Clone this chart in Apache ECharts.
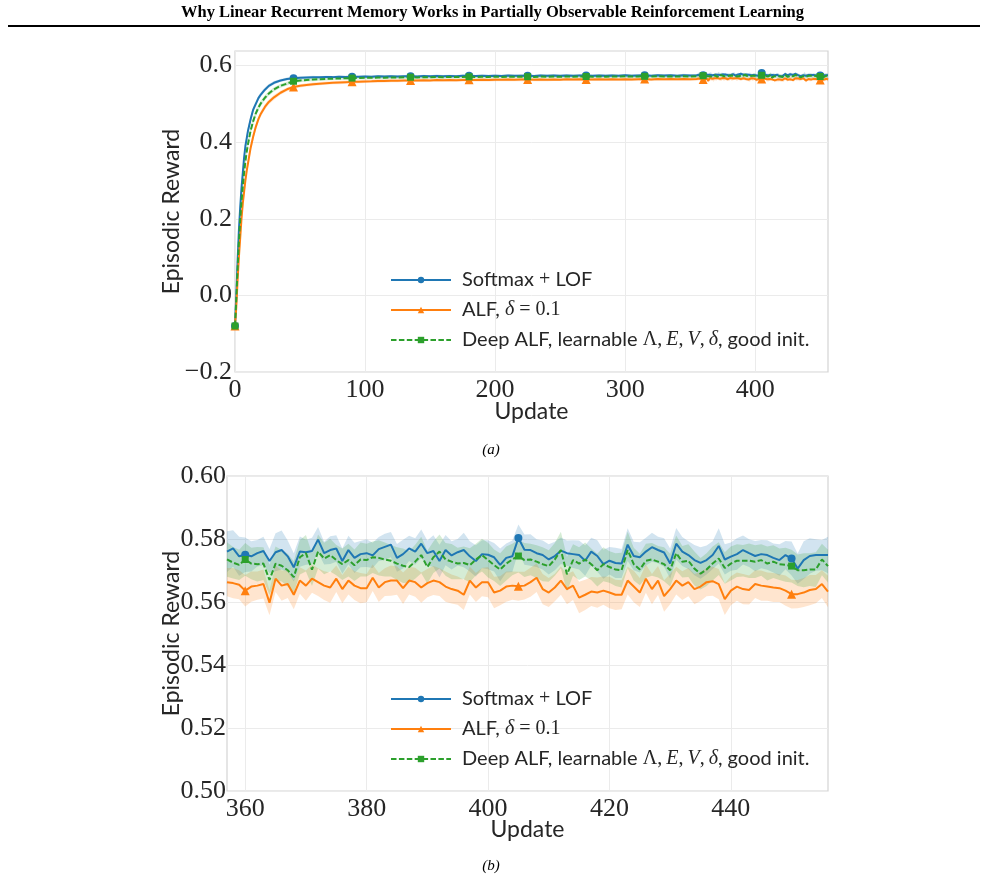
<!DOCTYPE html>
<html><head><meta charset="utf-8">
<script src="https://cdn.jsdelivr.net/npm/echarts@6/dist/echarts.min.js"></script>
<style>html,body{margin:0;padding:0;background:#fff}#c{width:985px;height:881px}</style>
</head><body><div id="c"></div><script>
// ---------- data ----------
const seriesNames = ['Softmax + LOF', 'ALF, \u03b4 = 0.1', 'Deep ALF, learnable \u039b, E, V, \u03b4, good init.'];
const topXTicks = [0, 100, 200, 300, 400];
const topYTicks = [-0.2, 0.0, 0.2, 0.4, 0.6];
const botXTicks = [360, 380, 400, 420, 440];
const botYTicks = [0.50, 0.52, 0.54, 0.56, 0.58, 0.60];

const updatesEarly = [
 0,1,2,3,4,5,6,7,8,9,
 10,12,14,16,18,20,23,26,30,35,
 40,45,50,55,60,65,70,75,80,85,
 90,95,100,105,110,115,120,125,130,135,
 140,145,150,155,160,165,170,175,180,185,
 190,195,200,205,210,215,220,225,230,235,
 240,245,250,255,260,265,270,275,280,285,
 290,295,300,305,310,315,320,325,330,335,
 340,345,350,355];
const softmaxEarly = [
 -0.080,0.000,0.090,0.170,0.230,0.280,0.320,0.360,0.390,0.410,
 0.430,0.460,0.485,0.500,0.515,0.525,0.537,0.547,0.555,0.561,
 0.5650,0.5670,0.5680,0.5688,0.5695,0.5692,0.5702,0.5698,0.5706,0.5701,
 0.5710,0.5707,0.5714,0.5709,0.5718,0.5712,0.5720,0.5714,0.5722,0.5719,
 0.5716,0.5725,0.5718,0.5727,0.5721,0.5729,0.5723,0.5731,0.5735,0.5726,
 0.5733,0.5728,0.5736,0.5730,0.5738,0.5731,0.5737,0.5734,0.5729,0.5740,
 0.5733,0.5739,0.5731,0.5742,0.5735,0.5740,0.5738,0.5732,0.5743,0.5736,
 0.5741,0.5734,0.5745,0.5737,0.5742,0.5744,0.5736,0.5746,0.5739,0.5744,
 0.5737,0.5747,0.5740,0.5745];
const alfEarly = [
 -0.080,-0.030,0.040,0.100,0.150,0.200,0.240,0.270,0.300,0.325,
 0.345,0.385,0.415,0.440,0.460,0.475,0.492,0.505,0.517,0.529,
 0.5380,0.5440,0.5470,0.5494,0.5512,0.5527,0.5540,0.5550,0.5560,0.5567,
 0.5574,0.5579,0.5586,0.5590,0.5596,0.5599,0.5605,0.5603,0.5610,0.5613,
 0.5609,0.5617,0.5613,0.5620,0.5616,0.5623,0.5619,0.5626,0.5629,0.5622,
 0.5630,0.5625,0.5632,0.5627,0.5634,0.5629,0.5635,0.5633,0.5628,0.5637,
 0.5631,0.5638,0.5632,0.5640,0.5634,0.5641,0.5639,0.5633,0.5643,0.5636,
 0.5642,0.5637,0.5645,0.5639,0.5644,0.5646,0.5638,0.5647,0.5641,0.5648,
 0.5642,0.5649,0.5643,0.5648];
const deepEarly = [
 -0.080,-0.010,0.070,0.140,0.200,0.245,0.285,0.320,0.350,0.375,
 0.395,0.430,0.455,0.475,0.490,0.502,0.516,0.527,0.538,0.547,
 0.5530,0.5590,0.5610,0.5625,0.5636,0.5645,0.5652,0.5658,0.5664,0.5668,
 0.5673,0.5676,0.5680,0.5683,0.5686,0.5684,0.5690,0.5687,0.5693,0.5696,
 0.5691,0.5698,0.5694,0.5700,0.5696,0.5702,0.5698,0.5704,0.5707,0.5700,
 0.5706,0.5702,0.5709,0.5703,0.5710,0.5705,0.5711,0.5709,0.5704,0.5712,
 0.5707,0.5713,0.5708,0.5715,0.5709,0.5716,0.5714,0.5708,0.5717,0.5711,
 0.5716,0.5712,0.5718,0.5713,0.5717,0.5719,0.5712,0.5720,0.5714,0.5719,
 0.5713,0.5721,0.5715,0.5720];
const softmaxStdEarly = [
 0.004,0.016,0.020,0.020,0.018,0.016,0.014,0.013,0.012,0.011,
 0.010,0.009,0.008,0.007,0.0065,0.006,0.0055,0.005,0.0045,0.004,
 0.0040,0.0038,0.0035,0.0033,0.0036,0.0031,0.0034,0.0030,0.0035,0.0032,
 0.0036,0.0030,0.0034,0.0031,0.0037,0.0032,0.0035,0.0030,0.0034,0.0036,
 0.0031,0.0035,0.0030,0.0037,0.0032,0.0034,0.0031,0.0036,0.0038,0.0030,
 0.0035,0.0032,0.0036,0.0031,0.0034,0.0030,0.0037,0.0033,0.0031,0.0036,
 0.0032,0.0035,0.0030,0.0037,0.0032,0.0034,0.0036,0.0031,0.0035,0.0032,
 0.0036,0.0030,0.0037,0.0033,0.0035,0.0038,0.0031,0.0036,0.0032,0.0035,
 0.0030,0.0037,0.0033,0.0036];
const alfStdEarly = [
 0.004,0.014,0.019,0.021,0.020,0.018,0.017,0.015,0.014,0.013,
 0.012,0.011,0.010,0.009,0.008,0.0075,0.007,0.0065,0.006,0.0055,
 0.0050,0.0048,0.0045,0.0043,0.0046,0.0041,0.0044,0.0040,0.0045,0.0042,
 0.0044,0.0039,0.0042,0.0040,0.0045,0.0041,0.0043,0.0038,0.0042,0.0044,
 0.0040,0.0043,0.0038,0.0045,0.0041,0.0042,0.0039,0.0044,0.0046,0.0038,
 0.0043,0.0040,0.0044,0.0039,0.0042,0.0038,0.0045,0.0041,0.0039,0.0044,
 0.0040,0.0043,0.0038,0.0045,0.0040,0.0042,0.0044,0.0039,0.0043,0.0040,
 0.0044,0.0038,0.0045,0.0041,0.0043,0.0046,0.0039,0.0044,0.0040,0.0043,
 0.0038,0.0045,0.0041,0.0044];
const deepStdEarly = [
 0.004,0.015,0.020,0.021,0.019,0.017,0.015,0.014,0.013,0.012,
 0.011,0.010,0.009,0.008,0.0075,0.007,0.0065,0.006,0.0055,0.005,
 0.0048,0.0046,0.0043,0.0041,0.0044,0.0040,0.0043,0.0039,0.0044,0.0041,
 0.0045,0.0039,0.0043,0.0040,0.0046,0.0041,0.0044,0.0039,0.0043,0.0045,
 0.0040,0.0044,0.0039,0.0046,0.0041,0.0043,0.0040,0.0045,0.0047,0.0039,
 0.0044,0.0041,0.0045,0.0040,0.0043,0.0039,0.0046,0.0042,0.0040,0.0045,
 0.0041,0.0044,0.0039,0.0046,0.0041,0.0043,0.0045,0.0040,0.0044,0.0041,
 0.0045,0.0039,0.0046,0.0042,0.0044,0.0047,0.0040,0.0045,0.0041,0.0044,
 0.0039,0.0046,0.0042,0.0045];

const updatesLate = [
 357,358,359,360,361,362,363,364,365,366,
 367,368,369,370,371,372,373,374,375,376,
 377,378,379,380,381,382,383,384,385,386,
 387,388,389,390,391,392,393,394,395,396,
 397,398,399,400,401,402,403,404,405,406,
 407,408,409,410,411,412,413,414,415,416,
 417,418,419,420,421,422,423,424,425,426,
 427,428,429,430,431,432,433,434,435,436,
 437,438,439,440,441,442,443,444,445,446,
 447,448,449,450,451,452,453,454,455,456];
const softmaxLate = [
 0.5760,0.5770,0.5745,0.5750,0.5745,0.5755,0.5762,0.5730,0.5758,0.5765,
 0.5745,0.5710,0.5760,0.5758,0.5762,0.5798,0.5755,0.5765,0.5770,0.5730,
 0.5765,0.5740,0.5752,0.5755,0.5748,0.5768,0.5775,0.5782,0.5740,0.5752,
 0.5770,0.5760,0.5785,0.5755,0.5762,0.5730,0.5765,0.5748,0.5758,0.5765,
 0.5745,0.5730,0.5752,0.5750,0.5742,0.5718,0.5740,0.5745,0.5803,0.5766,
 0.5765,0.5755,0.5749,0.5735,0.5746,0.5763,0.5755,0.5752,0.5749,0.5731,
 0.5760,0.5746,0.5720,0.5731,0.5724,0.5722,0.5782,0.5746,0.5742,0.5760,
 0.5774,0.5765,0.5757,0.5722,0.5785,0.5760,0.5749,0.5733,0.5724,0.5733,
 0.5749,0.5778,0.5735,0.5744,0.5752,0.5765,0.5755,0.5746,0.5752,0.5749,
 0.5740,0.5733,0.5749,0.5738,0.5706,0.5733,0.5746,0.5749,0.5749,0.5749];
const alfLate = [
 0.5663,0.5660,0.5655,0.5636,0.5649,0.5652,0.5657,0.5598,0.5674,0.5652,
 0.5657,0.5623,0.5668,0.5652,0.5674,0.5663,0.5652,0.5646,0.5674,0.5641,
 0.5668,0.5652,0.5644,0.5644,0.5677,0.5646,0.5663,0.5668,0.5668,0.5644,
 0.5668,0.5663,0.5646,0.5660,0.5668,0.5663,0.5649,0.5641,0.5636,0.5623,
 0.5668,0.5646,0.5663,0.5663,0.5630,0.5636,0.5649,0.5652,0.5650,0.5652,
 0.5663,0.5677,0.5641,0.5630,0.5646,0.5668,0.5641,0.5652,0.5614,0.5623,
 0.5633,0.5630,0.5636,0.5630,0.5623,0.5623,0.5668,0.5649,0.5630,0.5674,
 0.5641,0.5668,0.5619,0.5641,0.5668,0.5652,0.5663,0.5641,0.5649,0.5663,
 0.5666,0.5657,0.5609,0.5636,0.5649,0.5641,0.5638,0.5657,0.5652,0.5649,
 0.5646,0.5644,0.5636,0.5625,0.5625,0.5630,0.5638,0.5641,0.5657,0.5633];
const deepLate = [
 0.5735,0.5725,0.5718,0.5735,0.5722,0.5720,0.5722,0.5670,0.5722,0.5715,
 0.5701,0.5679,0.5742,0.5755,0.5703,0.5760,0.5738,0.5749,0.5733,0.5720,
 0.5733,0.5717,0.5735,0.5733,0.5742,0.5740,0.5735,0.5731,0.5722,0.5715,
 0.5711,0.5728,0.5749,0.5711,0.5742,0.5760,0.5735,0.5728,0.5722,0.5724,
 0.5717,0.5735,0.5749,0.5733,0.5717,0.5703,0.5722,0.5735,0.5746,0.5733,
 0.5735,0.5728,0.5720,0.5714,0.5735,0.5765,0.5688,0.5733,0.5722,0.5735,
 0.5720,0.5701,0.5720,0.5711,0.5703,0.5701,0.5765,0.5720,0.5703,0.5731,
 0.5735,0.5728,0.5720,0.5701,0.5755,0.5728,0.5731,0.5706,0.5690,0.5703,
 0.5722,0.5738,0.5708,0.5722,0.5731,0.5731,0.5731,0.5728,0.5733,0.5722,
 0.5728,0.5720,0.5718,0.5714,0.5701,0.5701,0.5703,0.5703,0.5735,0.5714];
const softmaxStdLate = [
 0.0065,0.0058,0.0062,0.0055,0.0048,0.0042,0.0045,0.0038,0.0060,0.0062,
 0.0050,0.0045,0.0048,0.0040,0.0042,0.0040,0.0036,0.0044,0.0042,0.0040,
 0.0045,0.0048,0.0042,0.0044,0.0040,0.0038,0.0042,0.0040,0.0044,0.0046,
 0.0040,0.0042,0.0045,0.0040,0.0050,0.0052,0.0048,0.0045,0.0042,0.0055,
 0.0048,0.0050,0.0044,0.0046,0.0045,0.0052,0.0046,0.0050,0.0043,0.0048,
 0.0050,0.0044,0.0046,0.0048,0.0045,0.0042,0.0040,0.0044,0.0046,0.0048,
 0.0044,0.0050,0.0046,0.0044,0.0048,0.0046,0.0052,0.0045,0.0048,0.0044,
 0.0046,0.0042,0.0045,0.0048,0.0050,0.0046,0.0044,0.0048,0.0050,0.0046,
 0.0044,0.0056,0.0048,0.0045,0.0050,0.0046,0.0044,0.0048,0.0045,0.0047,
 0.0046,0.0050,0.0045,0.0054,0.0048,0.0060,0.0056,0.0050,0.0048,0.0058];
const alfStdLate = [
 0.0045,0.0048,0.0046,0.0050,0.0048,0.0045,0.0046,0.0040,0.0042,0.0048,
 0.0044,0.0046,0.0042,0.0048,0.0045,0.0044,0.0046,0.0048,0.0042,0.0045,
 0.0044,0.0046,0.0048,0.0045,0.0042,0.0046,0.0044,0.0048,0.0045,0.0050,
 0.0044,0.0046,0.0048,0.0045,0.0046,0.0044,0.0048,0.0046,0.0045,0.0048,
 0.0044,0.0046,0.0045,0.0048,0.0050,0.0046,0.0048,0.0045,0.0046,0.0044,
 0.0046,0.0045,0.0048,0.0046,0.0044,0.0045,0.0048,0.0046,0.0050,0.0048,
 0.0046,0.0048,0.0045,0.0050,0.0048,0.0046,0.0044,0.0050,0.0046,0.0045,
 0.0048,0.0046,0.0050,0.0048,0.0044,0.0046,0.0045,0.0048,0.0046,0.0045,
 0.0046,0.0048,0.0050,0.0046,0.0045,0.0048,0.0046,0.0044,0.0048,0.0045,
 0.0046,0.0044,0.0048,0.0046,0.0045,0.0046,0.0048,0.0045,0.0044,0.0050];
const deepStdLate = [
 0.0055,0.0050,0.0048,0.0052,0.0050,0.0055,0.0052,0.0048,0.0054,0.0050,
 0.0052,0.0050,0.0055,0.0058,0.0052,0.0054,0.0050,0.0052,0.0048,0.0050,
 0.0052,0.0050,0.0054,0.0052,0.0050,0.0056,0.0054,0.0050,0.0052,0.0055,
 0.0050,0.0054,0.0058,0.0052,0.0050,0.0054,0.0052,0.0056,0.0050,0.0052,
 0.0054,0.0050,0.0052,0.0055,0.0050,0.0052,0.0054,0.0050,0.0052,0.0054,
 0.0050,0.0052,0.0054,0.0050,0.0052,0.0058,0.0055,0.0050,0.0052,0.0054,
 0.0050,0.0052,0.0054,0.0050,0.0052,0.0055,0.0058,0.0052,0.0050,0.0054,
 0.0052,0.0050,0.0054,0.0052,0.0056,0.0050,0.0052,0.0054,0.0050,0.0052,
 0.0054,0.0052,0.0050,0.0054,0.0052,0.0050,0.0055,0.0052,0.0050,0.0054,
 0.0052,0.0050,0.0054,0.0052,0.0050,0.0054,0.0052,0.0055,0.0050,0.0052];

// ---------- build ----------
const COLORS = ['#1f77b4', '#ff7f0e', '#2ca02c'];
const SYMBOLS = ['circle', 'triangle', 'rect'];
const SYMSIZE = [8, 9, 7];
const MARK_EVERY = 45;
const TXT = '#262626';

const topX = updatesEarly.concat(updatesLate);
const topMeans = [softmaxEarly.concat(softmaxLate), alfEarly.concat(alfLate), deepEarly.concat(deepLate)];
const topStds = [softmaxStdEarly.concat(softmaxStdLate), alfStdEarly.concat(alfStdLate), deepStdEarly.concat(deepStdLate)];
const botMeans = [softmaxLate, alfLate, deepLate];
const botStds = [softmaxStdLate, alfStdLate, deepStdLate];

function bandSeries(k, xs, mean, std, gi) {
  return {
    type: 'custom', xAxisIndex: gi, yAxisIndex: gi, silent: true, z: 1,
    data: xs.map((x, i) => [x, mean[i] - std[i], mean[i] + std[i]]),
    encode: { x: 0, y: [1, 2] },
    renderItem: function (params, api) {
      if (params.dataIndex !== 0) return null;
      const pts = [];
      for (let i = 0; i < xs.length; i++) pts.push(api.coord([xs[i], mean[i] + std[i]]));
      for (let i = xs.length - 1; i >= 0; i--) pts.push(api.coord([xs[i], mean[i] - std[i]]));
      return { type: 'polygon', shape: { points: pts }, style: { fill: COLORS[k], opacity: 0.2 } };
    }
  };
}
function lineSeries(k, xs, ys, gi) {
  return {
    type: 'line', name: seriesNames[k], xAxisIndex: gi, yAxisIndex: gi,
    data: xs.map((x, i) => [x, ys[i]]),
    symbol: SYMBOLS[k],
    symbolSize: v => (v[0] % MARK_EVERY === 0 ? SYMSIZE[k] : 0),
    showSymbol: true, showAllSymbol: true,
    lineStyle: { color: COLORS[k], width: 2, type: k === 2 ? [5.5, 2.4] : 'solid' },
    itemStyle: { color: COLORS[k] },
    z: 3 + k, silent: true
  };
}

const legendRich = {
  s: { fontFamily: 'Lato', fontSize: 20, color: TXT },
  m: { fontFamily: 'Liberation Serif', fontStyle: 'italic', fontSize: 20, color: TXT },
  r: { fontFamily: 'Liberation Serif', fontSize: 20, color: TXT }
};
const legendFmt = {};
legendFmt[seriesNames[0]] = '{s|Softmax }{r|+}{s| LOF}';
legendFmt[seriesNames[1]] = '{s|ALF, }{m|\u03b4}{r| = 0.1}';
legendFmt[seriesNames[2]] = '{s|Deep ALF, learnable }{r|\u039b,\u2009}{m|E}{r|,\u2009}{m|V}{r|,\u2009}{m|\u03b4}{s|, good init.}';

function legendAt(top) {
  return {
    orient: 'vertical', left: 385, top: top, itemWidth: 60, itemHeight: 8, itemGap: 8,
    selectedMode: false, data: seriesNames,
    textStyle: { rich: legendRich, lineHeight: 22, padding: [0, 0, 0, 6] },
    formatter: n => legendFmt[n]
  };
}

const labelBase = { fontFamily: 'Liberation Serif', fontSize: 26, color: TXT };
const nameStyle = { fontFamily: 'Lato', fontSize: 23, color: TXT };
const splitLine = { show: true, lineStyle: { color: '#ebebeb', width: 1 } };

function fmtTop(v) { return (v < 0 ? '\u2212' : '') + Math.abs(v).toFixed(1); }

const series = [];
for (let k = 0; k < 3; k++) series.push(bandSeries(k, topX, topMeans[k], topStds[k], 0));
for (let k = 0; k < 3; k++) series.push(bandSeries(k, updatesLate, botMeans[k], botStds[k], 1));
for (let k = 0; k < 3; k++) series.push(lineSeries(k, topX, topMeans[k], 0));
for (let k = 0; k < 3; k++) series.push(lineSeries(k, updatesLate, botMeans[k], 1));

const option = {
  animation: false,
  backgroundColor: '#fff',
  grid: [
    { left: 235, top: 51, width: 593, height: 321, show: true, borderColor: '#d4d4d4', borderWidth: 1.2, backgroundColor: 'transparent' },
    { left: 227, top: 476, width: 601, height: 315, show: true, borderColor: '#d4d4d4', borderWidth: 1.2, backgroundColor: 'transparent' }
  ],
  xAxis: [
    { type: 'value', gridIndex: 0, min: 0, max: 456,
      axisLine: { show: false }, axisTick: { show: false, customValues: topXTicks },
      axisLabel: Object.assign({ customValues: topXTicks, margin: 5 }, labelBase),
      splitLine: splitLine, nameMoveOverlap: false,
      name: 'Update', nameLocation: 'middle', nameGap: 28, nameTextStyle: nameStyle },
    { type: 'value', gridIndex: 1, min: 357, max: 456,
      axisLine: { show: false }, axisTick: { show: false, customValues: botXTicks },
      axisLabel: Object.assign({ customValues: botXTicks, margin: 5 }, labelBase),
      splitLine: splitLine, nameMoveOverlap: false,
      name: 'Update', nameLocation: 'middle', nameGap: 27, nameTextStyle: nameStyle }
  ],
  yAxis: [
    { type: 'value', gridIndex: 0, min: -0.2, max: 0.638,
      axisLine: { show: false }, axisTick: { show: false, customValues: topYTicks },
      axisLabel: Object.assign({ customValues: topYTicks, margin: 3, formatter: fmtTop }, labelBase),
      splitLine: splitLine, nameMoveOverlap: false,
      name: 'Episodic Reward', nameLocation: 'middle', nameGap: 52, nameTextStyle: nameStyle },
    { type: 'value', gridIndex: 1, min: 0.5, max: 0.6,
      axisLine: { show: false }, axisTick: { show: false, customValues: botYTicks },
      axisLabel: Object.assign({ customValues: botYTicks, margin: 1, formatter: v => v.toFixed(2) }, labelBase),
      splitLine: splitLine, nameMoveOverlap: false,
      name: 'Episodic Reward', nameLocation: 'middle', nameGap: 44, nameTextStyle: nameStyle }
  ],
  legend: [legendAt(264), legendAt(683)],
  series: series,
  graphic: [
    { type: 'text', left: 'center', top: 4, style: { text: 'Why Linear Recurrent Memory Works in Partially Observable Reinforcement Learning', font: 'bold 16.5px "Liberation Serif"', fill: '#000' } },
    { type: 'rect', shape: { x: 8, y: 25, width: 972, height: 2 }, style: { fill: '#000' } },
    { type: 'text', x: 491, y: 450, style: { text: '(a)', font: 'italic 15px "Liberation Serif"', fill: '#000', align: 'center', verticalAlign: 'middle' } },
    { type: 'text', x: 491, y: 866, style: { text: '(b)', font: 'italic 15px "Liberation Serif"', fill: '#000', align: 'center', verticalAlign: 'middle' } }
  ]
};
echarts.init(document.getElementById('c'), null, { renderer: 'canvas' }).setOption(option);
</script></body></html>
